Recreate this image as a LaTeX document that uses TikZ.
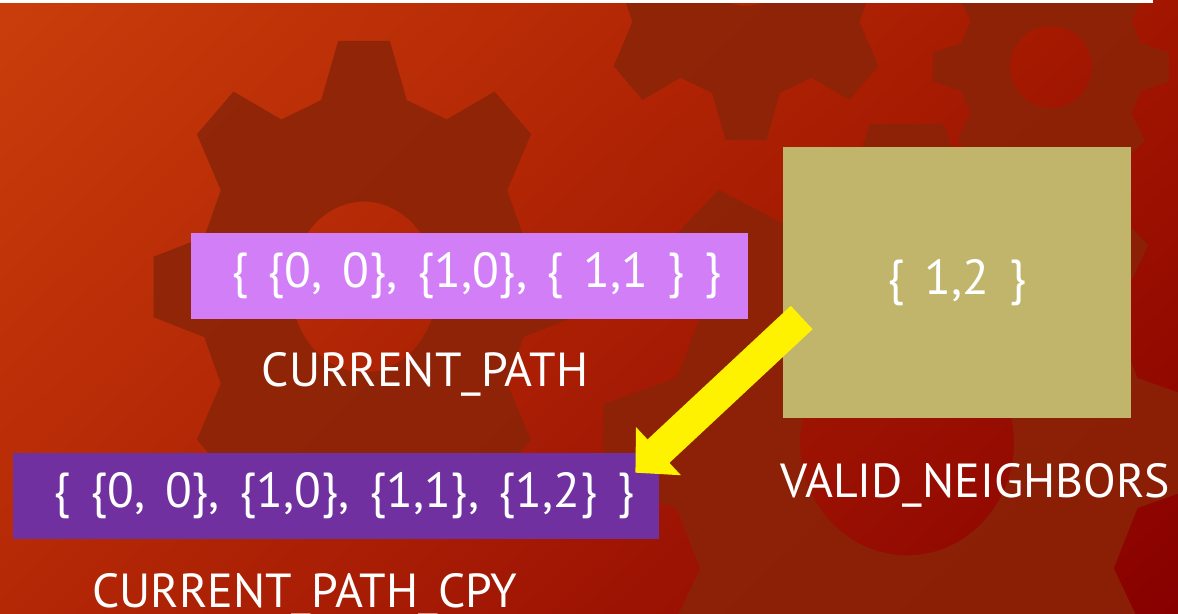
\documentclass[tikz,border=0pt]{standalone}
\usepackage{fontspec}
\setmainfont{PT Sans}
\newfontfamily\widesetfont[WordSpace=1.5]{PT Sans}
\usepackage{tikz}
\usetikzlibrary{arrows.meta,positioning,shadings}
\definecolor{bgtl}{HTML}{CA3D0B}
\definecolor{bgtr}{HTML}{A21600}
\definecolor{bgbl}{HTML}{B42806}
\definecolor{bgbr}{HTML}{880000}
\definecolor{cogbrown}{HTML}{8A2408}
\definecolor{lilac}{HTML}{D17EF7}
\definecolor{grape}{HTML}{7030A0}
\definecolor{khaki}{HTML}{C1B56B}
\tikzset{
  setbox/.style={
    rectangle, fill=#1, text=white,
    font=\widesetfont\fontsize{35}{40}\selectfont, align=center,
    inner sep=0pt
  },
  setbox/.default=lilac,
  setlabel/.style={
    text=white, font=\fontsize{34}{40}\selectfont, inner sep=0pt
  },
  cogfill/.style={fill=cogbrown, fill opacity=0.85, even odd rule},
  pusharrow/.style={
    -{Triangle[length=0.79cm, width=1.6cm]}, line width=0.8cm, draw=yellow
  },
}
% eight-tooth cog: centre x, centre y, tip radius, hub radius, yscale
\newcommand{\cog}[5]{%
  \pgfmathsetmacro\cogroot{0.78*#3}
  \fill[cogfill, shift={(#1,#2)}, yscale=#5]
    (-15:\cogroot) \foreach \a in {0,45,...,315}{
      -- (\a-15:\cogroot) -- (\a-7:#3) -- (\a+7:#3) -- (\a+15:\cogroot)}
    -- cycle (0,0) circle[radius=#4];
}

\begin{document}
\begin{tikzpicture}[x=0.025cm, y=-0.025cm]
  % backdrop
  \useasboundingbox (0,0) rectangle (1178,613);
  \shade[upper left=bgtl, upper right=bgtr, lower left=bgbl, lower right=bgbr]
    (0,0) rectangle (1178,613);
  \cog{364}{287}{212}{73}{1.17}
  \cog{746}{-55}{168}{52}{1.17}
  \cog{1051}{67}{119}{41}{1.0}
  \cog{907}{443}{306}{107}{1.05}
  \fill[white] (0,0) rectangle (1153,3);

  % the three sets
  \node[setbox=lilac, minimum width=13.93cm, minimum height=2.15cm] (pathbox) at (469.5,276)
    {\hspace{0.35cm}\{ \{0, 0\}, \{1,0\}, \{ 1,1 \} \}};
  \node[setbox=grape, minimum width=16.15cm, minimum height=2.15cm] (copybox) at (336,496)
    {\hspace{0.4cm}\{ \{0, 0\}, \{1,0\}, \{1,1\}, \{1,2\} \}};
  \node[setbox=khaki, minimum width=8.7cm, minimum height=6.78cm] (nbrsbox) at (957,282.5)
    {\{ 1,2 \}};

  \node[setlabel, below=0.83cm of pathbox, xshift=-1.11cm] (pathlabel) {CURRENT\_PATH};
  \node[setlabel, below=0.85cm of copybox, xshift=-0.78cm] (copylabel) {CURRENT\_PATH\_CPY};
  \node[setlabel, below=1.13cm of nbrsbox, xshift=0.45cm] (nbrslabel) {VALID\_NEIGHBORS};

  \draw[pusharrow] ([shift={(19,35)}]nbrsbox.west) -- ([shift={(-24,20)}]copybox.north east);
\end{tikzpicture}
\end{document}
